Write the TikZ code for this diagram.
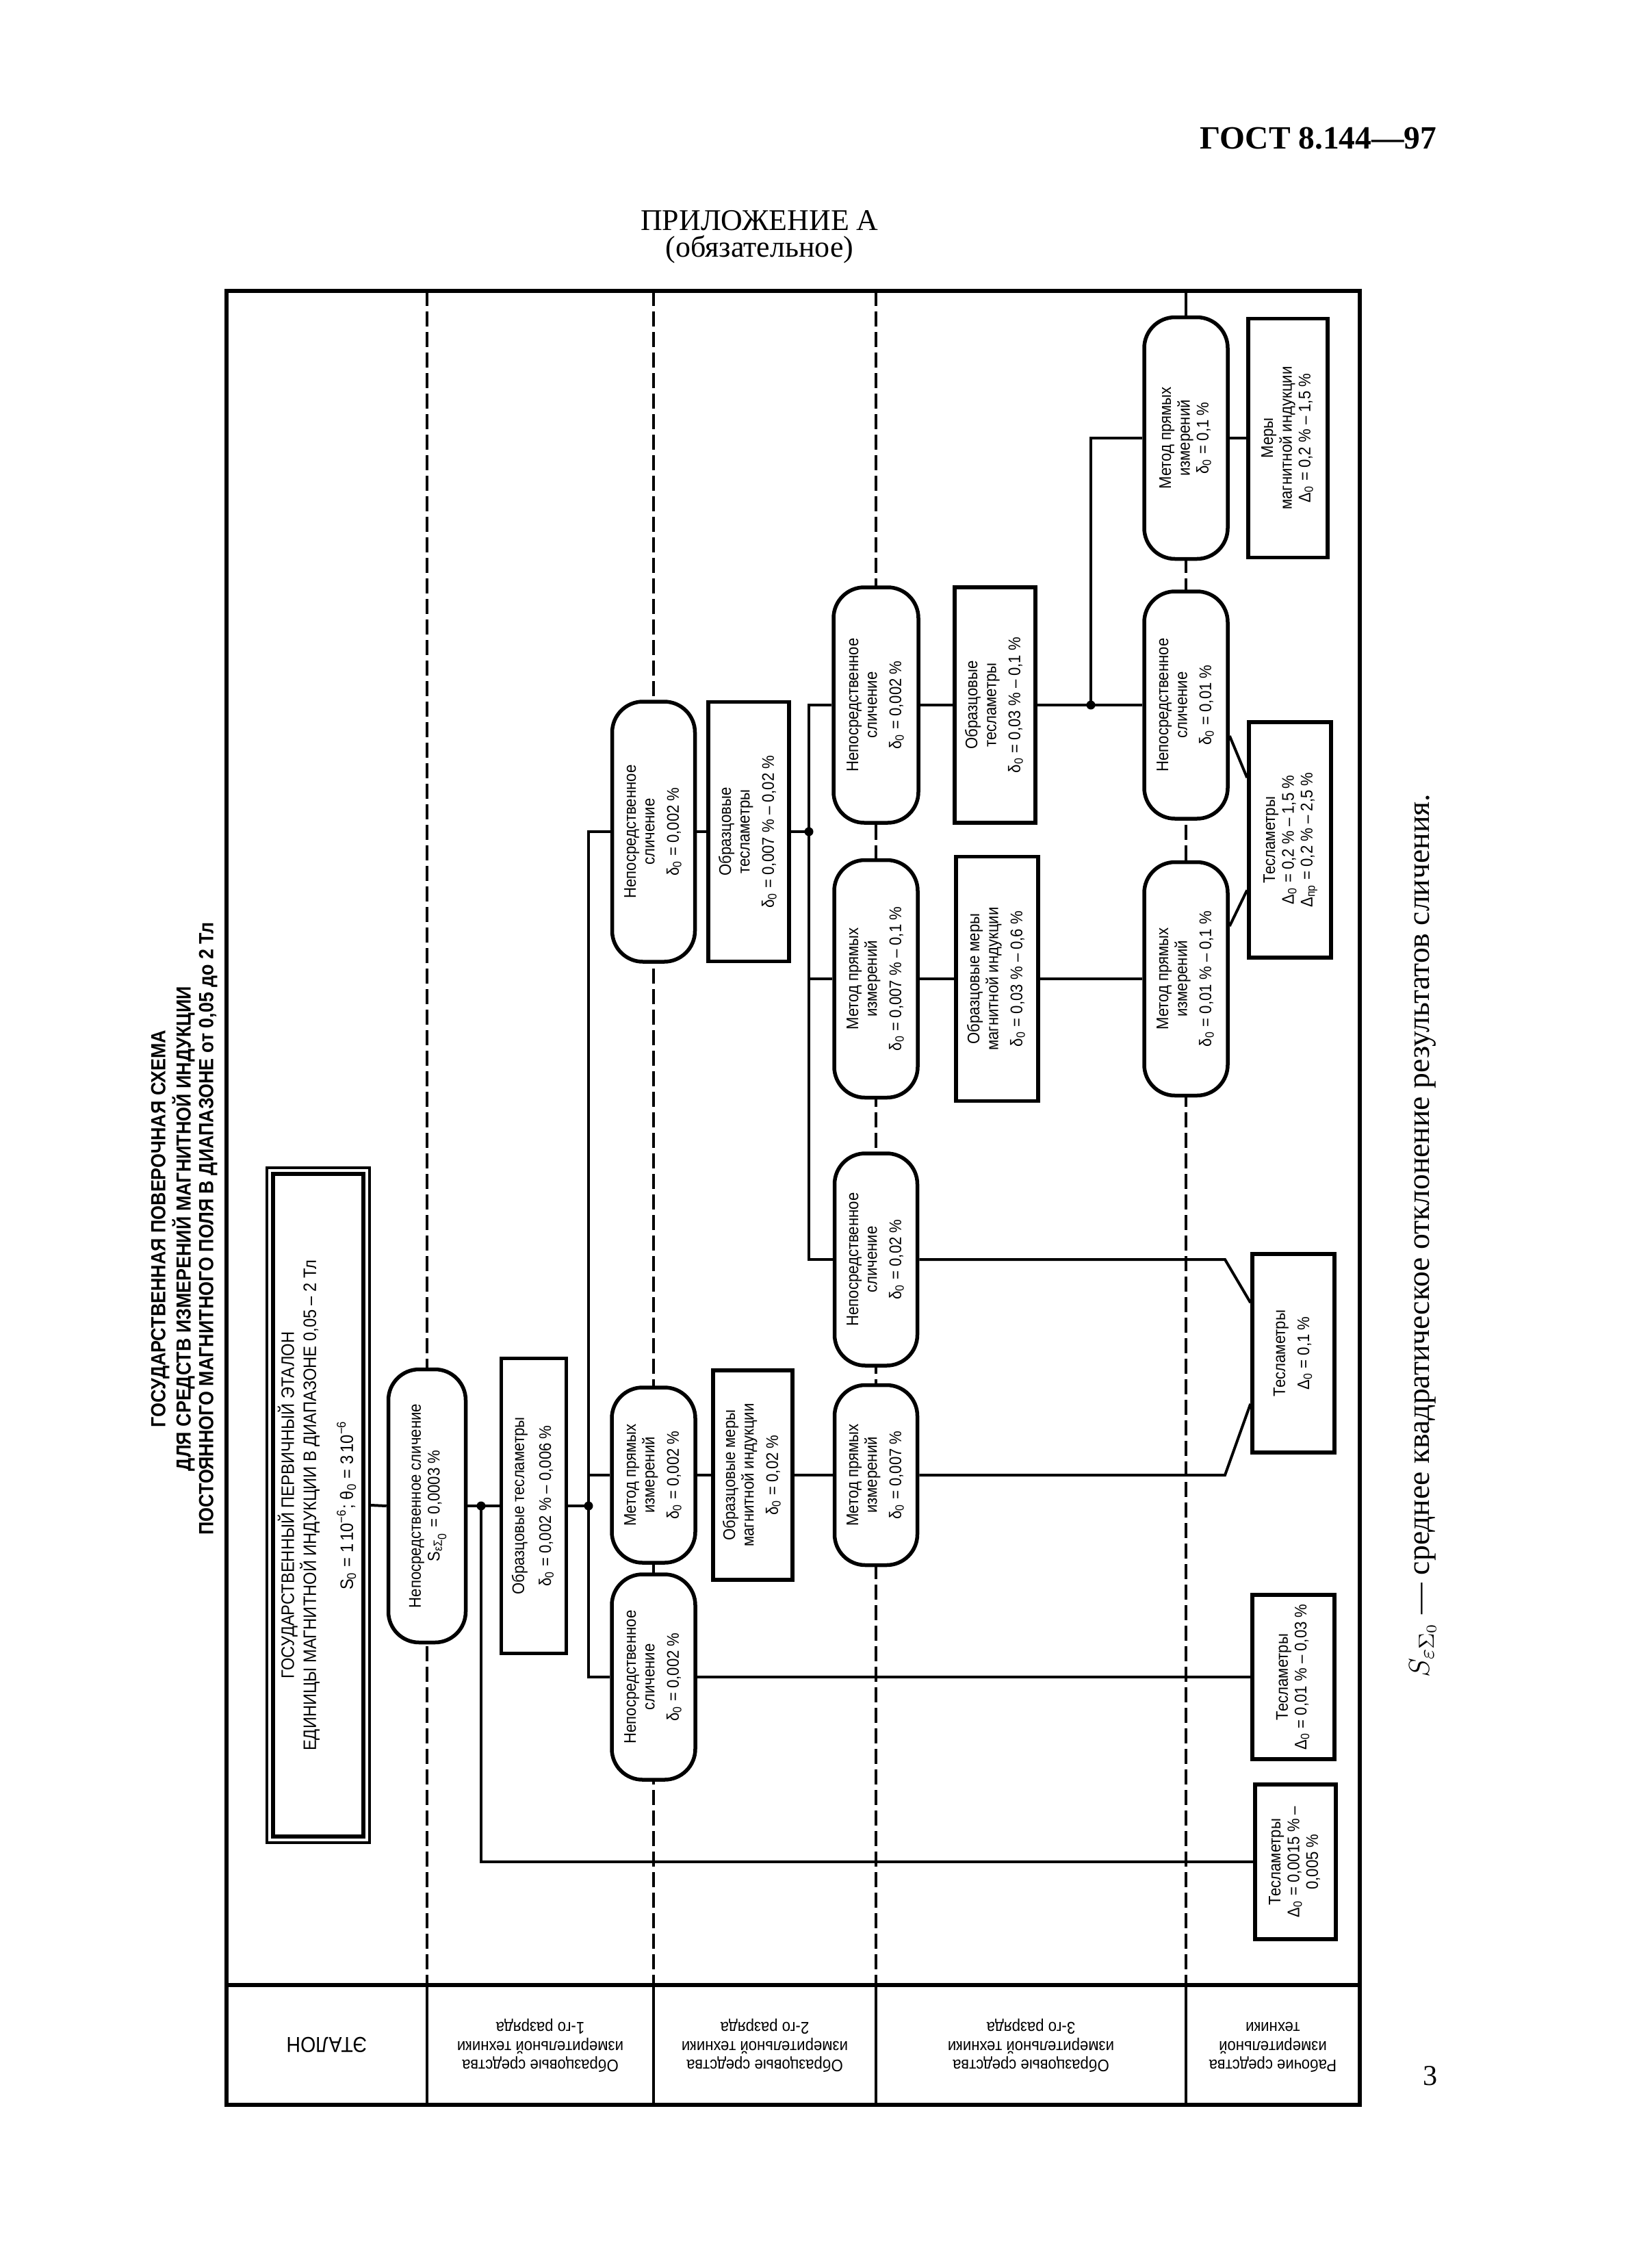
\documentclass[tikz,border=0pt]{standalone}
\usepackage{fontspec}
\usepackage{graphicx}
\setmainfont{Liberation Serif}
\newfontfamily\nf[FakeStretch=0.9]{Liberation Sans}
\usetikzlibrary{calc}
\newcommand{\nodefont}{\nf\fontsize{7}{7.8}\selectfont}
\newcommand{\efont}{\nf\fontsize{7.5}{8}\selectfont}
\newcommand{\titlefont}{\nf\bfseries\fontsize{8.5}{9.4}\selectfont}
\newcommand{\vt}[1]{\rotatebox{90}{\begin{tabular}{@{}c@{}}#1\end{tabular}}}
\newcommand{\ut}[1]{\rotatebox{180}{\begin{tabular}{@{}c@{}}#1\end{tabular}}}
\newcommand{\lo}[1]{\textsubscript{#1}}
\begin{document}
\begin{tikzpicture}[x=1mm,y=-1mm,
  conn/.style={line width=0.4mm},
  coldash/.style={line width=0.45mm, dash pattern=on 2.2mm off 0.8mm},
  rnode/.style={draw, line width=0.55mm, fill=white, rounded corners=4.5mm, inner sep=0pt, font=\nodefont},
  rbox/.style={draw, line width=0.55mm, fill=white, inner sep=0pt, font=\nodefont},
  lbl/.style={inner sep=0pt, font=\nodefont},
  jdot/.style={fill=black}
]
\useasboundingbox (0,0) rectangle (241.3,330.9);

% page header
\node[anchor=base east, font=\bfseries\fontsize{13.5}{15}\selectfont, inner sep=0pt] (gost) at (210.0,21.7) {ГОСТ 8.144—97};
\node[font=\fontsize{12.5}{14}\selectfont, inner sep=0pt] (pril) at (111.0,32.2) {ПРИЛОЖЕНИЕ А};
\node[font=\fontsize{12.5}{14}\selectfont, inner sep=0pt] (obyaz) at (111.0,36.4) {(обязательное)};

% frame
\draw[line width=0.65mm] (33.1,42.5) rectangle (198.7,307.5);
\draw[line width=0.65mm] (33.1,290) -- (198.7,290);
\foreach \x in {62.4,95.5,128.0,173.3} \draw[line width=0.4mm] (\x,290) -- (\x,307.5);
\foreach \x in {62.4,95.5,128.0,173.3} \draw[coldash] (\x,42.5) -- (\x,290);

% title
\node[inner sep=0pt, font=\titlefont] (title) at (27.0,179.5) {\vt{ГОСУДАРСТВЕННАЯ ПОВЕРОЧНАЯ СХЕМА\\ДЛЯ СРЕДСТВ ИЗМЕРЕНИЙ МАГНИТНОЙ ИНДУКЦИИ\\ПОСТОЯННОГО МАГНИТНОГО ПОЛЯ В ДИАПАЗОНЕ от 0,05 до 2 Тл}};

% primary standard
\node[draw, line width=0.4mm, minimum width=15mm, minimum height=98.6mm, inner sep=0pt] (Eo) at (46.5,219.9) {};
\node[draw, line width=0.6mm, fill=white, minimum width=13.2mm, minimum height=96.8mm, inner sep=0pt, font=\efont] (E) at (46.5,219.9) {\vt{ГОСУДАРСТВЕННЫЙ ПЕРВИЧНЫЙ ЭТАЛОН\\ЕДИНИЦЫ МАГНИТНОЙ ИНДУКЦИИ В ДИАПАЗОНЕ 0,05 – 2 Тл\\[2.2mm] S\lo{0} = 1\,10\textsuperscript{−6}; θ\lo{0} = 3\,10\textsuperscript{−6}}};

% nodes
\node[rnode, minimum width=11.3mm, minimum height=39.9mm] (S) at (62.4,220) {\vt{Непосредственное сличение\\S\lo{εΣ\lo{0}} = 0,0003 \%}};
\node[rbox, minimum width=9.5mm, minimum height=43.1mm] (OT1) at (78.0,220) {\vt{Образцовые тесламетры\\[1.2mm] δ\lo{0} = 0,002 \% – 0,006 \%}};

\node[rnode, minimum width=12.1mm, minimum height=38mm] (N2a) at (95.5,121.5) {\vt{Непосредственное\\сличение\\[0.8mm] δ\lo{0} = 0,002 \%}};
\node[rbox, minimum width=11.8mm, minimum height=37.9mm] (OT2) at (109.4,121.5) {\vt{Образцовые\\тесламетры\\[0.8mm] δ\lo{0} = 0,007 \% – 0,02 \%}};
\node[rnode, minimum width=12.2mm, minimum height=25.6mm] (M2) at (95.5,215.5) {\vt{Метод прямых\\измерений\\[0.8mm] δ\lo{0} = 0,002 \%}};
\node[rbox, minimum width=11.6mm, minimum height=30.6mm] (OM2) at (110.0,215.5) {\vt{Образцовые меры\\магнитной индукции\\[0.8mm] δ\lo{0} = 0,02 \%}};
\node[rnode, minimum width=12.2mm, minimum height=30mm] (N2b) at (95.5,245.0) {\vt{Непосредственное\\сличение\\[0.8mm] δ\lo{0} = 0,002 \%}};

\node[rnode, minimum width=12.4mm, minimum height=34.4mm] (N3a) at (128.0,103.0) {\vt{Непосредственное\\сличение\\[0.8mm] δ\lo{0} = 0,002 \%}};
\node[rbox, minimum width=11.8mm, minimum height=34.4mm] (OT3) at (145.4,103.0) {\vt{Образцовые\\тесламетры\\[0.8mm] δ\lo{0} = 0,03 \% – 0,1 \%}};
\node[rnode, minimum width=12.2mm, minimum height=34.7mm] (M3a) at (128.0,143.0) {\vt{Метод прямых\\измерений\\[0.8mm] δ\lo{0} = 0,007 \% – 0,1 \%}};
\node[rbox, minimum width=12mm, minimum height=35.7mm] (OM3) at (145.7,143.0) {\vt{Образцовые меры\\магнитной индукции\\[0.8mm] δ\lo{0} = 0,03 \% – 0,6 \%}};
\node[rnode, minimum width=12.1mm, minimum height=31mm] (N3b) at (128.0,184.0) {\vt{Непосредственное\\сличение\\[0.8mm] δ\lo{0} = 0,02 \%}};
\node[rnode, minimum width=12.1mm, minimum height=26.3mm] (M3b) at (128.0,215.5) {\vt{Метод прямых\\измерений\\[0.8mm] δ\lo{0} = 0,007 \%}};

\node[rnode, minimum width=12.2mm, minimum height=35.3mm] (M4a) at (173.3,64.0) {\vt{Метод прямых\\измерений\\δ\lo{0} = 0,1 \%}};
\node[rnode, minimum width=12.2mm, minimum height=33.2mm] (N4) at (173.3,103.0) {\vt{Непосредственное\\сличение\\[0.8mm] δ\lo{0} = 0,01 \%}};
\node[rnode, minimum width=12.2mm, minimum height=34.1mm] (M4b) at (173.3,143.0) {\vt{Метод прямых\\измерений\\[0.8mm] δ\lo{0} = 0,01 \% – 0,1 \%}};

\node[rbox, minimum width=11.6mm, minimum height=34.9mm] (MR4) at (188.2,64.0) {\vt{Меры\\магнитной индукции\\Δ\lo{0} = 0,2 \% – 1,5 \%}};
\node[rbox, minimum width=12mm, minimum height=34.4mm] (T02) at (188.5,122.7) {\vt{Тесламетры\\Δ\lo{0} = 0,2 \% – 1,5 \%\\Δ\lo{пр} = 0,2 \% – 2,5 \%}};
\node[rbox, minimum width=12mm, minimum height=29mm] (T01) at (189.0,197.7) {\vt{Тесламетры\\[0.8mm] Δ\lo{0} = 0,1 \%}};
\node[rbox, minimum width=12mm, minimum height=24mm] (T003) at (189.0,245.0) {\vt{Тесламетры\\Δ\lo{0} = 0,01 \% – 0,03 \%}};
\node[rbox, minimum width=11.8mm, minimum height=22.6mm] (T0015) at (189.3,272.0) {\vt{Тесламетры\\Δ\lo{0} = 0,0015 \% –\\0,005 \%}};

% header labels
\node[lbl, font=\nf\fontsize{9}{10}\selectfont] (L0) at (47.75,298.75) {\rotatebox{180}{ЭТАЛОН}};
\node[lbl] (L1) at (78.95,298.75) {\ut{Образцовые средства\\измерительной техники\\1-го разряда}};
\node[lbl] (L2) at (111.75,298.75) {\ut{Образцовые средства\\измерительной техники\\2-го разряда}};
\node[lbl] (L3) at (150.65,298.75) {\ut{Образцовые средства\\измерительной техники\\3-го разряда}};
\node[lbl] (L4) at (186.0,298.75) {\ut{Рабочие средства\\измерительной\\техники}};

% footnote and page number
\node[inner sep=0pt, font=\fontsize{13}{15}\selectfont] (foot) at (207.9,180.5) {\rotatebox{90}{$S_{\varepsilon\Sigma_0}$ — среднее квадратическое отклонение результатов сличения.}};
\node[inner sep=0pt, font=\fontsize{12}{14}\selectfont] (pg) at (209.0,303.3) {3};

% junctions
\coordinate (t1) at (70.3,220);
\coordinate (t2) at (86.0,220);
\coordinate (t3) at (118.2,121.5);
\coordinate (t4) at (159.4,103.0);
\coordinate (c4top) at (173.3,42.5);
\coordinate (k1) at (179.0,184.0);
\coordinate (k2) at (179.0,215.5);

% connectors
\draw[conn] (Eo.east) -- (S.west);
\draw[conn] (S.east) -- (OT1.west);
\draw[conn] (t1) |- (T0015.west);
\draw[conn] (OT1.east) -- (t2);
\draw[conn] (N2a.west) -| (t2) |- (N2b.west);
\draw[conn] (t2 |- M2.west) -- (M2.west);
\draw[conn] (M2.east) -- (OM2.west);
\draw[conn] (OM2.east) -- (M3b.west);
\draw[conn] (M3b.east) -- (k2) -- ($(T01.north west)!0.75!(T01.south west)$);
\draw[conn] (N2b.east) -- (T003.west);
\draw[conn] (N2a.east) -- (OT2.west);
\draw[conn] (OT2.east) -- (t3);
\draw[conn] (N3a.west) -| (t3) |- (N3b.west);
\draw[conn] (t3 |- M3a.west) -- (M3a.west);
\draw[conn] (N3a.east) -- (OT3.west);
\draw[conn] (OT3.east) -- (N4.west);
\draw[conn] (M4a.west) -| (t4);
\draw[conn] (M4a.east) -- (MR4.west);
\draw[conn] (M3a.east) -- (OM3.west);
\draw[conn] (OM3.east) -- (M4b.west);
\draw[conn] (N3b.east) -- (k1) -- ($(T01.north west)!0.25!(T01.south west)$);
\draw[conn] ($(N4.east)+(0,4.5)$) -- ($(T02.north west)!0.24!(T02.south west)$);
\draw[conn] ($(T02.north west)!0.71!(T02.south west)$) -- ($(M4b.east)+(0,-7.7)$);
\draw[conn] (c4top) -- (M4a.north);

\foreach \p in {t1,t2,t3,t4} \fill[jdot] (\p) circle (0.65mm);
\end{tikzpicture}
\end{document}
